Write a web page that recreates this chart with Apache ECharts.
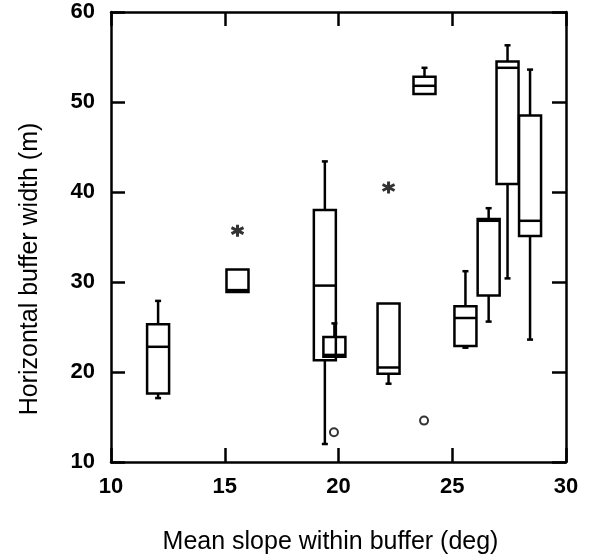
<!DOCTYPE html>
<html>
<head>
<meta charset="utf-8">
<script src="https://cdn.jsdelivr.net/npm/echarts@6/dist/echarts.min.js"></script>
<style>html,body{margin:0;padding:0;background:#fff;}#c{width:595px;height:560px;}</style>
</head>
<body>
<div id="c"></div>
<script>
// Box positions (mean slope, deg) and box statistics (buffer width, m)
const slope       = [12.07, 15.56, 19.40, 19.82, 22.20, 23.78, 25.58, 26.60, 27.43, 28.42];
const whiskerLow  = [17.1, 28.9, 12.0, 21.7, 18.7, 50.9, 22.7, 25.6, 30.4, 23.6];
const q1          = [17.6, 28.9, 21.3, 21.7, 19.8, 50.9, 22.9, 28.5, 40.9, 35.1];
const median      = [22.8, 29.1, 29.6, 21.9, 20.5, 51.8, 26.0, 36.8, 53.8, 36.8];
const q3          = [25.3, 31.4, 38.0, 23.9, 27.6, 52.8, 27.3, 37.0, 54.5, 48.5];
const whiskerHigh = [27.9, 31.4, 43.4, 25.4, 27.6, 53.8, 31.2, 38.2, 56.3, 53.6];
// Outliers
const circleOutliers = [[19.80, 13.3], [23.76, 14.6]];
const starOutliers   = [[15.56, 35.7], [22.20, 40.5]];
// Axis ticks
const xTicks = { min: 10, max: 30, interval: 5 };
const yTicks = { min: 10, max: 60, interval: 10 };

const boxData = slope.map((s, i) => [s, whiskerLow[i], q1[i], median[i], q3[i], whiskerHigh[i]]);

const FONT = '"Liberation Sans", Arial, sans-serif';
const LW = 2.5;
const HALF = 11;
const CAP = 3;

function renderBox(params, api) {
  const x = api.value(0);
  const lo = api.value(1), b1 = api.value(2), md = api.value(3), b3 = api.value(4), hi = api.value(5);
  const pLo = api.coord([x, lo]), p1 = api.coord([x, b1]), pm = api.coord([x, md]),
        p3 = api.coord([x, b3]), pHi = api.coord([x, hi]);
  const cx = p1[0];
  const st = { stroke: '#000', lineWidth: LW, fill: null };
  const children = [
    { type: 'rect', shape: { x: cx - HALF, y: p3[1], width: 2 * HALF, height: p1[1] - p3[1] }, style: st },
    { type: 'line', shape: { x1: cx - HALF, y1: pm[1], x2: cx + HALF, y2: pm[1] }, style: st }
  ];
  if (hi > b3) {
    children.push({ type: 'line', shape: { x1: cx, y1: p3[1], x2: cx, y2: pHi[1] }, style: st });
    children.push({ type: 'line', shape: { x1: cx - CAP, y1: pHi[1], x2: cx + CAP, y2: pHi[1] }, style: st });
  }
  if (lo < b1) {
    children.push({ type: 'line', shape: { x1: cx, y1: p1[1], x2: cx, y2: pLo[1] }, style: st });
    children.push({ type: 'line', shape: { x1: cx - CAP, y1: pLo[1], x2: cx + CAP, y2: pLo[1] }, style: st });
  }
  return { type: 'group', children };
}

const axisCommon = {
  axisLine: { show: true, lineStyle: { color: '#000', width: LW } },
  axisTick: { show: true, inside: true, length: 14, lineStyle: { color: '#000', width: LW } },
  splitLine: { show: false }
};

const chart = echarts.init(document.getElementById('c'), null, { renderer: 'canvas' });
chart.setOption({
  animation: false,
  backgroundColor: '#fff',
  grid: { left: 111, right: 29, top: 12, bottom: 96 },
  xAxis: [
    Object.assign({
      type: 'value', min: xTicks.min, max: xTicks.max, interval: xTicks.interval, position: 'bottom',
      name: 'Mean slope within buffer (deg)', nameLocation: 'middle', nameGap: 68,
      nameTextStyle: { fontFamily: FONT, fontSize: 25, color: '#000', padding: [0, 16, 0, 0] },
      axisLabel: { fontFamily: FONT, fontSize: 22, fontWeight: 'bold', color: '#000', margin: 14 }
    }, axisCommon),
    Object.assign({
      type: 'value', min: xTicks.min, max: xTicks.max, interval: xTicks.interval, position: 'top',
      axisLabel: { show: false }
    }, axisCommon)
  ],
  yAxis: [
    Object.assign({
      type: 'value', min: yTicks.min, max: yTicks.max, interval: yTicks.interval, position: 'left',
      name: 'Horizontal buffer width (m)', nameLocation: 'middle', nameGap: 68,
      nameTextStyle: { fontFamily: FONT, fontSize: 25, color: '#000', padding: [0, 64, 0, 0] },
      axisLabel: { fontFamily: FONT, fontSize: 22, fontWeight: 'bold', color: '#000', margin: 16 }
    }, axisCommon),
    Object.assign({
      type: 'value', min: yTicks.min, max: yTicks.max, interval: yTicks.interval, position: 'right',
      axisLabel: { show: false }
    }, axisCommon)
  ],
  series: [
    {
      type: 'custom', xAxisIndex: 0, yAxisIndex: 0,
      data: boxData,
      encode: { x: 0, y: [1, 2, 3, 4, 5] },
      renderItem: renderBox,
      clip: false
    },
    {
      type: 'scatter', xAxisIndex: 0, yAxisIndex: 0,
      data: circleOutliers,
      symbol: 'circle', symbolSize: 8,
      itemStyle: { color: '#fff', borderColor: '#000', borderWidth: 2 }
    },
    {
      type: 'scatter', xAxisIndex: 0, yAxisIndex: 0,
      data: starOutliers,
      symbol: 'path://M5 0 L5 10 M0.7 2.5 L9.3 7.5 M0.7 7.5 L9.3 2.5',
      symbolSize: 12,
      itemStyle: { color: 'none', borderColor: '#000', borderWidth: 3 }
    }
  ]
});
</script>
</body>
</html>
